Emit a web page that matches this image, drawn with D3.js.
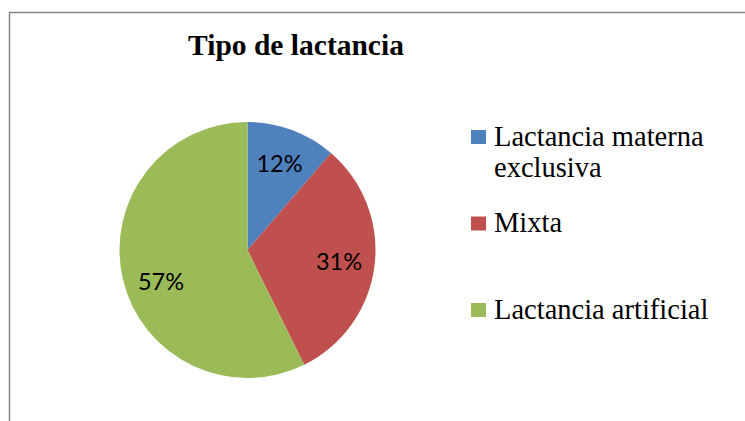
<!DOCTYPE html>
<html>
<head>
<meta charset="utf-8">
<script src="https://cdn.jsdelivr.net/npm/d3@7"></script>
<style>
  html, body { margin: 0; padding: 0; background: #fff; }
  svg { display: block; }
  .serif { font-family: 'Liberation Serif', 'Times New Roman', 'DejaVu Serif', serif; }
  .pct { font-family: Lato, 'Open Sans', sans-serif; }
</style>
</head>
<body>
<div id="chart"></div>
<script>
const WIDTH = 745;
const HEIGHT = 421;

// data
const categories = ['Lactancia materna exclusiva', 'Mixta', 'Lactancia artificial'];
const values = [11.3, 31.4, 57.3];
const percentLabels = ['12%', '31%', '57%'];
const colors = ['#4F81BD', '#C0504D', '#9BBB59'];
const legendLines = [['Lactancia materna', 'exclusiva'], ['Mixta'], ['Lactancia artificial']];
const title = 'Tipo de lactancia';

const svg = d3.select('#chart')
  .append('svg')
  .attr('width', WIDTH)
  .attr('height', HEIGHT);

// chart area border (runs off the right and bottom edges)
svg.append('rect')
  .attr('x', 9.5)
  .attr('y', 12.5)
  .attr('width', 900)
  .attr('height', 600)
  .attr('fill', 'none')
  .attr('stroke', '#868686')
  .attr('stroke-width', 1.5);

svg.append('text')
  .attr('class', 'serif')
  .attr('x', 296)
  .attr('y', 55)
  .attr('text-anchor', 'middle')
  .style('font-weight', 'bold')
  .style('font-size', '29.5px')
  .attr('fill', '#000')
  .text(title);

const cx = 247.5, cy = 250, radius = 128;

const pie = d3.pie()
  .sort(null)
  .value(d => d);

const arc = d3.arc()
  .innerRadius(0)
  .outerRadius(radius);

const labelArc = d3.arc()
  .innerRadius(radius * 0.72)
  .outerRadius(radius * 0.72);

const g = svg.append('g')
  .attr('transform', 'translate(' + cx + ',' + cy + ')');

const arcs = pie(values);

g.selectAll('path.slice')
  .data(arcs)
  .enter()
  .append('path')
  .attr('class', 'slice')
  .attr('d', arc)
  .attr('fill', (d, i) => colors[i]);

// Excel nudges the big slice's label up a little
const labelShift = [0, 0, -7];

g.selectAll('text.pct')
  .data(arcs)
  .enter()
  .append('text')
  .attr('class', 'pct')
  .attr('transform', (d, i) => {
    const a = (d.startAngle + d.endAngle) / 2 + labelShift[i] * Math.PI / 180;
    const r = radius * 0.72;
    return 'translate(' + (Math.sin(a) * r) + ',' + (-Math.cos(a) * r) + ')';
  })
  .attr('text-anchor', 'middle')
  .attr('dy', '0.36em')
  .style('font-size', '23.5px')
  .attr('fill', '#000')
  .text((d, i) => percentLabels[i]);

// legend
const legendY = d3.scalePoint()
  .domain(categories)
  .range([137, 310]);

const legend = svg.append('g');

categories.forEach((c, i) => {
  const y = legendY(c);
  legend.append('rect')
    .attr('x', 471)
    .attr('y', y - 7)
    .attr('width', 15)
    .attr('height', 14)
    .attr('fill', colors[i]);

  const t = legend.append('text')
    .attr('class', 'serif')
    .attr('x', 494)
    .attr('y', y + 8.5)
    .style('font-size', '28.5px')
    .attr('fill', '#000');

  legendLines[i].forEach((line, j) => {
    t.append('tspan')
      .attr('x', 494)
      .attr('dy', j === 0 ? 0 : 31.7)
      .text(line);
  });
});
</script>
</body>
</html>
